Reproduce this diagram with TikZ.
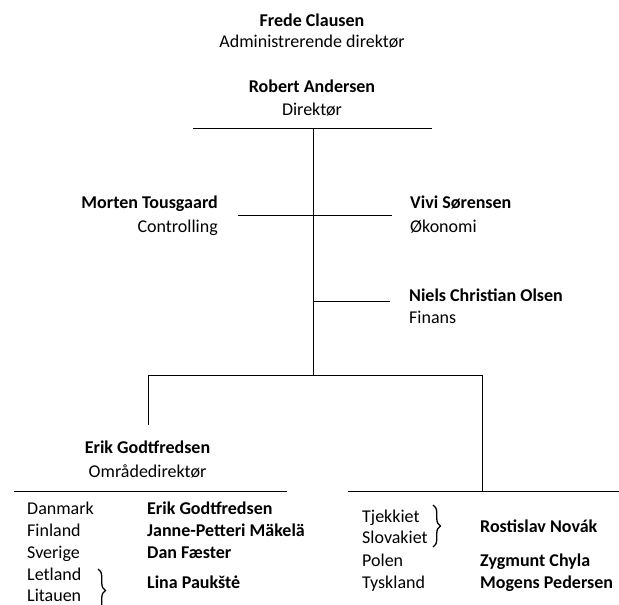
\documentclass[tikz,border=0pt]{standalone}
\usepackage{fontspec}
\setmainfont{Carlito}
\usetikzlibrary{decorations.pathreplacing}
\begin{document}
\begin{tikzpicture}[x=1pt,y=-1pt,
  every node/.style={inner sep=0pt,font=\fontsize{18}{22}\selectfont},
  nm/.style={font=\fontsize{18}{22}\selectfont\bfseries},
  ln/.style={line width=1pt},
  br/.style={line width=1.3pt,decorate,decoration={brace,amplitude=7.5pt}}]
\useasboundingbox (0,0) rectangle (619,605);
% top people
\node[nm,anchor=base] (fc) at (312,26) {Frede Clausen};
\node[anchor=base] (fct) at (312,47) {Administrerende direktør};
\node[nm,anchor=base] (ra) at (312,92) {Robert Andersen};
\node[anchor=base] (rat) at (312,115) {Direktør};
\node[nm,anchor=base east] (mt) at (218,208) {Morten Tousgaard};
\node[anchor=base east] (mtt) at (218,232) {Controlling};
\node[nm,anchor=base west] (vs) at (410,208) {Vivi Sørensen};
\node[anchor=base west] (vst) at (410,232) {Økonomi};
\node[nm,anchor=base west] (nc) at (409,301) {Niels Christian Olsen};
\node[anchor=base west] (nct) at (409,323) {Finans};
\node[nm,anchor=base] (eg) at (147.5,453) {Erik Godtfredsen};
\node[anchor=base] (egt) at (147.5,477) {Områdedirektør};
% left list
\node[anchor=base west] (c1) at (27,514) {Danmark};
\node[anchor=base west] (c2) at (27,536) {Finland};
\node[anchor=base west] (c3) at (27,558) {Sverige};
\node[anchor=base west] (c4) at (27,580) {Letland};
\node[anchor=base west] (c5) at (27,601.5) {Litauen};
\node[nm,anchor=base west] (p1) at (147,514) {Erik Godtfredsen};
\node[nm,anchor=base west] (p2) at (147,536) {Janne-Petteri Mäkelä};
\node[nm,anchor=base west] (p3) at (147,558) {Dan Fæster};
\node[nm,anchor=base west] (p4) at (147,588) {Lina Paukštė};
% right list
\node[anchor=base west] (d1) at (362,522) {Tjekkiet};
\node[anchor=base west] (d2) at (362,543) {Slovakiet};
\node[anchor=base west] (d3) at (362,566) {Polen};
\node[anchor=base west] (d4) at (362,588) {Tyskland};
\node[nm,anchor=base west] (q1) at (480,532) {Rostislav Novák};
\node[nm,anchor=base west] (q2) at (480,566) {Zygmunt Chyla};
\node[nm,anchor=base west] (q3) at (480,588) {Mogens Pedersen};
% coordinates
\coordinate (tl) at (193,128);
\coordinate (tr) at (432,128);
\coordinate (tm) at (313,128);
\coordinate (bm) at (313,375);
\coordinate (cl) at (238,215);
\coordinate (cr) at (392,215);
\coordinate (nm1) at (313,301);
\coordinate (nm2) at (390,301);
\coordinate (bl) at (148,375);
\coordinate (br1) at (482,375);
\coordinate (bld) at (148,425);
\coordinate (brd) at (482,491);
\coordinate (ll1) at (14,491);
\coordinate (ll2) at (287,491);
\coordinate (rl1) at (348,491);
\coordinate (rl2) at (619,491);
\coordinate (lb1) at (98,569);
\coordinate (lb2) at (98,612);
\coordinate (rb1) at (433,505);
\coordinate (rb2) at (433,547);
% lines
\draw[ln] (tl) -- (tr);
\draw[ln] (tm) -- (bm);
\draw[ln] (cl) -- (cr);
\draw[ln] (nm1) -- (nm2);
\draw[ln] (bld) -- (bl) -- (br1) -- (brd);
\draw[ln] (ll1) -- (ll2);
\draw[ln] (rl1) -- (rl2);
\draw[br] (lb1) -- (lb2);
\draw[br] (rb1) -- (rb2);
\end{tikzpicture}
\end{document}
